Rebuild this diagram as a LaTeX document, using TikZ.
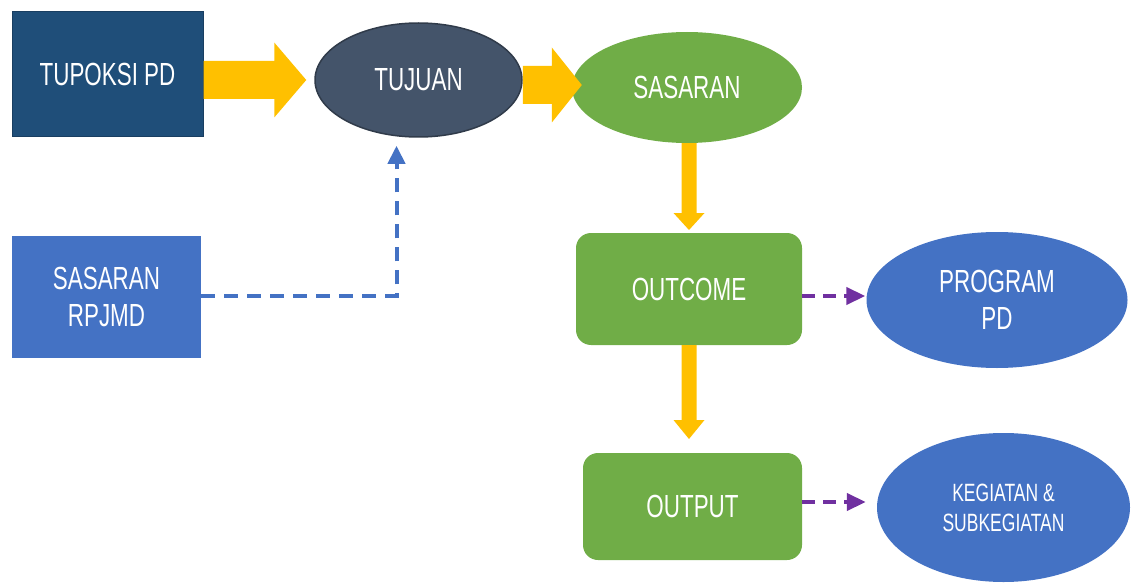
\documentclass[tikz,border=0pt]{standalone}
\usepackage{fontspec}
\setmainfont[FakeStretch=0.7]{Liberation Sans}
\usetikzlibrary{arrows.meta,calc,shapes.geometric}
\definecolor{navy}{HTML}{1F4E79}
\definecolor{slate}{HTML}{44546A}
\definecolor{grn}{HTML}{70AD47}
\definecolor{blu}{HTML}{4472C4}
\definecolor{ylw}{HTML}{FFC000}
\definecolor{purp}{HTML}{7030A0}
\newcommand\harrow[5]{%
  \fill[ylw] let \p1=(#1), \p2=(#2) in
    (\x1,\y2+#3) -- (\x2-#5,\y2+#3) -- (\x2-#5,\y2+#4) -- (\x2,\y2)
    -- (\x2-#5,\y2-#4) -- (\x2-#5,\y2-#3) -- (\x1,\y2-#3) -- cycle;}
\newcommand\varrow[5]{%
  \fill[ylw] let \p1=(#1), \p2=(#2) in
    (\x2+#3,\y1) -- (\x2+#3,\y2+#5) -- (\x2+#4,\y2+#5) -- (\x2,\y2)
    -- (\x2-#4,\y2+#5) -- (\x2-#3,\y2+#5) -- (\x2-#3,\y1) -- cycle;}
\tikzset{
  lbl/.style={text=white, font=\fontsize{32}{37}\selectfont, align=center, inner sep=0pt},
  boxnode/.style={lbl, rectangle, minimum width=#1},
  ellnode/.style={lbl, ellipse},
  dashblue/.style={draw=blu, line width=4pt, dash pattern=on 14pt off 9pt, -{Triangle[length=18pt,width=17pt]}},
  dashpurp/.style={draw=purp, line width=4pt, dash pattern=on 13pt off 8pt, -{Triangle[length=19pt,width=17pt]}}
}
\begin{document}
\begin{tikzpicture}[x=1pt,y=-1pt]
\useasboundingbox (0,0) rectangle (1132,583);
% nodes
\node[boxnode=191pt, minimum height=125pt, fill=navy, draw=navy!80!black, line width=1pt] (tupoksi) at (107.5,74.5) {TUPOKSI PD};
\node[ellnode, minimum width=207pt, minimum height=114pt, fill=slate, draw=slate!70!black, line width=1.5pt] (tujuan) at (418.5,80) {TUJUAN};
\node[ellnode, minimum width=230pt, minimum height=111pt, fill=grn] (sasaran) at (687,87.5) {SASARAN};
\node[boxnode=189pt, minimum height=122pt, fill=blu] (rpjmd) at (106.5,297) {SASARAN\\RPJMD};
\node[boxnode=226pt, minimum height=112pt, fill=grn, rounded corners=15pt] (outcome) at (689,289) {OUTCOME};
\node[boxnode=219pt, minimum height=107pt, fill=grn, rounded corners=15pt] (output) at (692.5,506.5) {OUTPUT};
\node[ellnode, minimum width=261pt, minimum height=136pt, fill=blu] (program) at (997,300) {PROGRAM\\PD};
\node[ellnode, minimum width=253pt, minimum height=149pt, fill=blu, font=\fontsize{25}{30}\selectfont] (kegiatan) at (1003.5,507.5) {KEGIATAN \&\\SUBKEGIATAN};
% yellow block arrows
\coordinate (a1) at ($(tujuan.west)+(-8,0)$);
\harrow{tupoksi.east}{a1}{19pt}{37.5pt}{32pt}
\coordinate (a2) at ($(sasaran.west)+(10,-2.5)$);
\harrow{tujuan.east}{a2}{19pt}{37.5pt}{30pt}
\coordinate (a3) at (outcome.north |- 0,230);
\varrow{sasaran.south}{a3}{7.5pt}{15.5pt}{17pt}
\coordinate (a4) at (outcome.south |- 0,439);
\varrow{outcome.south}{a4}{7.5pt}{15.5pt}{19pt}
% dashed connectors
\coordinate (bend) at (396,296);
\coordinate (t1) at ($(tujuan.south)+(-22,8)$);
\draw[dashblue] (rpjmd.east |- bend) -- (bend) -- (t1 |- bend) -- (t1);
\draw[dashpurp] ($(outcome.east)+(0,7)$) -- ($(program.west)+(-1,-4)$);
\draw[dashpurp] ($(output.east)+(0,-4.5)$) -- ($(kegiatan.west)+(-11,-5.5)$);
\end{tikzpicture}
\end{document}
